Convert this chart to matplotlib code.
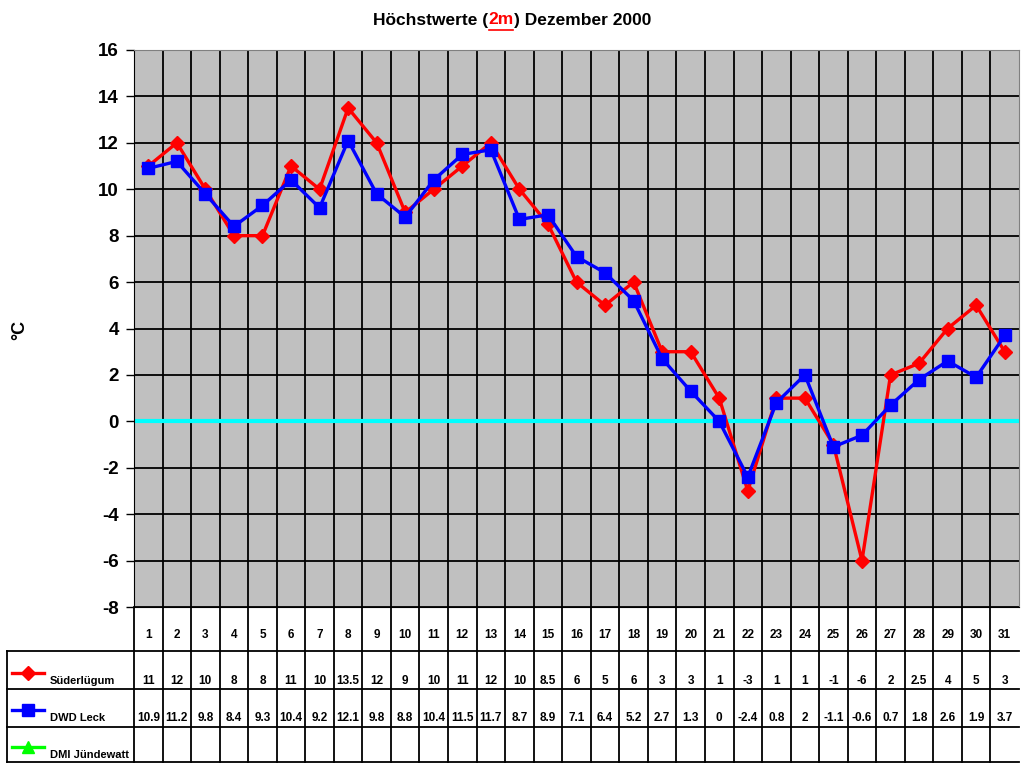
import numpy as np
import matplotlib
matplotlib.use('Agg')
import matplotlib.pyplot as plt
from matplotlib.lines import Line2D
import matplotlib.transforms as mtransforms

plt.rcParams['font.family'] = ['Liberation Sans', 'DejaVu Sans']
plt.rcParams['font.weight'] = 'bold'

# Tage im Dezember 2000
days = list(range(1, 32))
suederluegum = [11, 12, 10, 8, 8, 11, 10, 13.5, 12, 9, 10, 11, 12, 10, 8.5, 6, 5, 6, 3, 3,
                1, -3, 1, 1, -1, -6, 2, 2.5, 4, 5, 3]
dwd_leck = [10.9, 11.2, 9.8, 8.4, 9.3, 10.4, 9.2, 12.1, 9.8, 8.8, 10.4, 11.5, 11.7, 8.7, 8.9,
            7.1, 6.4, 5.2, 2.7, 1.3, 0, -2.4, 0.8, 2, -1.1, -0.6, 0.7, 1.8, 2.6, 1.9, 3.7]
dmi_juendewatt = [None] * 31
series_names = ['Süderlügum', 'DWD Leck', 'DMI Jündewatt']
y_ticks = list(range(-8, 17, 2))

W, H = 1024, 768
fig = plt.figure(figsize=(W / 100, H / 100), dpi=100)

def fx(px):
    return px / W

def fy(py):
    return 1 - py / H

# Diagramm
left, right, top, bottom = 134, 1019, 50, 607
ax = fig.add_axes([fx(left), fy(bottom), fx(right - left), fy(top) - fy(bottom)])
ax.set_facecolor('#c0c0c0')
x = np.arange(len(days))
ax.set_xlim(-0.5, len(days) - 0.5)
ax.set_ylim(-8, 16)
ax.set_yticks(y_ticks)
ax.set_yticklabels([str(t) for t in y_ticks], fontsize=13.5, fontweight='bold')
ax.tick_params(axis='y', direction='out', length=6, width=1, color='black', pad=5)
ax.set_xticks([])
for yv in y_ticks:
    ax.axhline(yv, color='black', lw=1.3, zorder=1)
for xv in np.arange(0.5, len(days) - 0.5, 1):
    ax.axvline(xv, color='black', lw=1.3, zorder=1)
ax.axhline(0, color='#00ffff', lw=3, zorder=2)
for s in ['top', 'right']:
    ax.spines[s].set_color('#808080')
ax.spines['left'].set_color('black')
ax.spines['bottom'].set_color('black')

ax.plot(x, suederluegum, color='red', lw=2.4, marker='D', markersize=7, zorder=3)
ax.plot(x, dwd_leck, color='blue', lw=2.4, marker='s', markersize=9, zorder=4)

fig.text(fx(20), fy(330), '°C', rotation=90, fontsize=13, fontweight='bold',
         ha='center', va='center')

# Titel mit rotem, unterstrichenem "2m"
parts = [('Höchstwerte (', 'black'), ('2m', 'red'), (') Dezember 2000', 'black')]
renderer = fig.canvas.get_renderer()
widths = []
texts = []
for s, c in parts:
    t = fig.text(0, fy(20), s, color=c, fontsize=12.5, fontweight='bold', va='center')
    texts.append(t)
    widths.append(t.get_window_extent(renderer).width)
total = sum(widths)
xpos = 512 - total / 2
for t, w in zip(texts, widths):
    t.set_x(fx(xpos))
    if t.get_text() == '2m':
        fig.add_artist(Line2D([fx(xpos + 1), fx(xpos + w - 1)], [fy(29.5), fy(29.5)],
                              color='red', lw=1.2))
    xpos += w

# Datentabelle
tab = fig.add_axes([fx(left), fy(762), fx(right - left), fy(bottom) - fy(762)], sharex=ax)
tab.set_ylim(762, bottom)
tab.axis('off')
trans = mtransforms.blended_transform_factory(tab.transAxes, tab.transData)
leg_left = (7 - left) / (right - left)
row_lines = [651, 689, 727, 762]
for yv in row_lines:
    tab.add_line(Line2D([leg_left, 1], [yv, yv], transform=trans, color='black', lw=1.3,
                        clip_on=False))
tab.add_line(Line2D([leg_left, leg_left], [651, 762], transform=trans, color='black', lw=1.3,
                    clip_on=False))
tab.add_line(Line2D([0, 0], [bottom, 762], transform=trans, color='black', lw=1.3,
                    clip_on=False))
for xv in np.arange(0.5, len(days) - 0.5, 1):
    tab.plot([xv, xv], [bottom, 762], color='black', lw=1.3, clip_on=False)

for i, d in enumerate(days):
    tab.text(i, 635, str(d), ha='center', va='center', fontsize=8.5, fontweight='bold')

rows = [suederluegum, dwd_leck, dmi_juendewatt]
row_y = [681, 718, 755]
for vals, yy in zip(rows, row_y):
    for i, v in enumerate(vals):
        if v is None:
            continue
        tab.text(i, yy, f'{v:g}', ha='center', va='center', fontsize=8.5, fontweight='bold')

# Legendenschlüssel
colors = ['red', 'blue', '#00ff00']
markers = ['D', 's', '^']
msizes = [7, 9, 9]
for name, c, m, ms, yy in zip(series_names, colors, markers, msizes, row_y):
    yl = yy - 8
    fig.add_artist(Line2D([fx(12), fx(44)], [fy(yl), fy(yl)], color=c, lw=2.4))
    fig.add_artist(Line2D([fx(28)], [fy(yl)], color=c, marker=m, markersize=ms, lw=0))
    fig.text(fx(50), fy(yy), name, fontsize=8, fontweight='bold', va='center', ha='left')

fig.savefig('out.png', dpi=100)
